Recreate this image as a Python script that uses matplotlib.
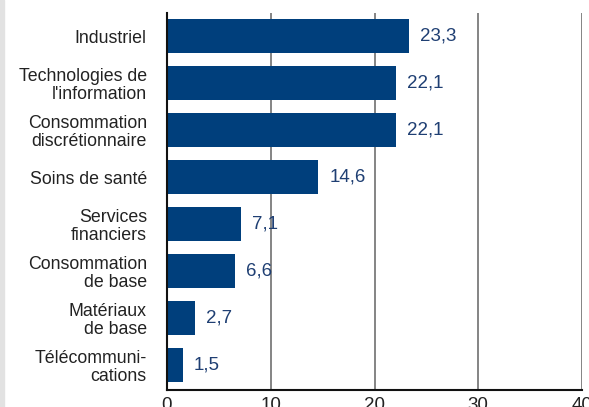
import matplotlib.pyplot as plt
from matplotlib.patches import Rectangle

categories = [
    "Industriel",
    "Technologies de\nl'information",
    "Consommation\ndiscrétionnaire",
    "Soins de santé",
    "Services\nfinanciers",
    "Consommation\nde base",
    "Matériaux\nde base",
    "Télécommuni-\ncations",
]
values = [23.3, 22.1, 22.1, 14.6, 7.1, 6.6, 2.7, 1.5]
xticks = [0, 10, 20, 30, 40]

BAR = "#003f7c"
TXT = "#1f3f73"

plt.rcParams["font.family"] = ["Liberation Sans", "DejaVu Sans"]

fig = plt.figure(figsize=(5.89, 4.07), dpi=100)
fig.patches.append(Rectangle((0, 0), 4 / 589, 1, transform=fig.transFigure,
                             color="#e2e2e2", zorder=0))
ax = fig.add_axes([167 / 589, 1 - 390 / 407, (582 - 167) / 589, (390 - 13) / 407])

pos = list(range(len(values)))
ax.barh(pos, values, height=0.72, color=BAR, zorder=3)
for y, v in zip(pos, values):
    ax.text(v + 1.05, y, f"{v:.1f}".replace(".", ","), va="center", ha="left",
            fontsize=13.5, color=TXT, zorder=4)

ax.set_xlim(0, 40)
ax.set_ylim(7.53, -0.49)
ax.set_xticks(xticks)
ax.set_xticklabels([str(t) for t in xticks], fontsize=13.5, color="#222222")
ax.set_yticks(pos)
ax.set_yticklabels(categories, fontsize=12.8, color="#222222", linespacing=1.05)
ax.tick_params(axis="y", length=0, pad=14.5)
ax.tick_params(axis="x", length=0, pad=5)

ax.grid(axis="x", color="#707070", lw=1.2, zorder=1)
for s in ["top", "right"]:
    ax.spines[s].set_visible(False)
ax.spines["left"].set_color("#111111")
ax.spines["bottom"].set_color("#111111")
ax.spines["left"].set_linewidth(1.5)
ax.spines["bottom"].set_linewidth(1.5)
ax.spines["left"].set_zorder(5)
ax.spines["bottom"].set_zorder(5)

fig.savefig("out.png", dpi=100)
